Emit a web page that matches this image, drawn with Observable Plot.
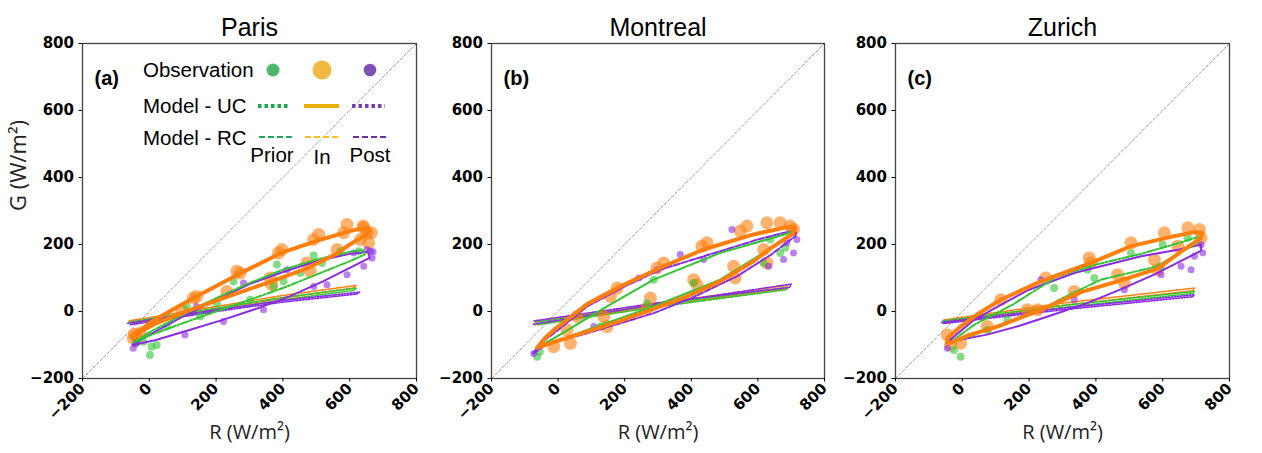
<!DOCTYPE html>
<html><head><meta charset="utf-8">
<script src="https://cdn.jsdelivr.net/npm/d3@7"></script>
<script src="https://cdn.jsdelivr.net/npm/@observablehq/plot@0.6"></script>
<style>
body{margin:0;background:#fff;}
#wrap{position:relative;width:1262px;height:453px;overflow:hidden;font-family:"Liberation Sans",Arial,sans-serif;}
.panel{position:absolute;top:0;overflow:visible;}
#legend{position:absolute;left:0;top:0;pointer-events:none;}
</style></head><body><div id="wrap"></div><script>
// ---------- axis / labels ----------
const cities = ["Paris", "Montreal", "Zurich"];
const panelTags = ["(a)", "(b)", "(c)"];
const ticks = [-200, 0, 200, 400, 600, 800];
const axisDomain = [-200, 800];
const xLabel = "R (W/m²)";
const yLabel = "G (W/m²)";
const legendRows = ["Observation", "Model - UC", "Model - RC"];
const legendCols = ["Prior", "In", "Post"];

// ---------- Paris ----------
const parisUcIn = [[-50,-78],[-35,-62],[0,-35],[60,0],[135,42],[270,113],[395,175],[515,215],[600,240],[645,250],[660,242],[648,228],[600,200],[560,172],[470,128],[360,88],[245,48],[115,2],[15,-38],[-30,-62],[-50,-78]];
const parisUcPrior = [[-45,-92],[0,-62],[100,-10],[200,40],[300,85],[400,125],[500,155],[600,178],[640,183],[645,170],[600,150],[500,110],[400,70],[300,35],[200,0],[100,-35],[0,-72],[-45,-92]];
const parisUcPost = [[-50,-100],[0,-70],[100,-15],[200,35],[300,82],[400,118],[500,150],[600,172],[655,178],[660,160],[600,130],[520,90],[420,45],[320,8],[220,-25],[120,-55],[20,-85],[-50,-100]];
const parisRcIn = [[-60,-28],[200,15],[400,48],[620,78],[610,70],[400,40],[200,8],[-55,-35]];
const parisRcPrior = [[-62,-32],[200,10],[400,42],[620,70],[612,63],[400,35],[200,3],[-56,-38]];
const parisRcPost = [[-65,-35],[200,5],[400,33],[630,58],[620,52],[400,28],[200,0],[-60,-40]];
const parisObsIn = [[592,260],[642,250],[652,235],[657,205],[582,235],[632,215],[562,185],[492,215],[507,230],[397,185],[387,175],[472,145],[482,120],[362,100],[367,80],[262,120],[272,115],[232,60],[142,45],[132,40],[97,5],[-28,-65],[-48,-80],[-38,-72],[-45,-68],[665,235],[640,255]];
const parisObsPrior = [[492,167],[382,140],[572,180],[517,145],[452,115],[372,75],[252,90],[112,15],[152,-15],[52,-45],[7,-105],[2,-130],[22,-100],[-18,-90],[202,25],[302,35],[402,90],[627,180],[-40,-95]];
const parisObsPost = [[652,185],[667,160],[642,135],[592,110],[532,80],[342,5],[412,125],[282,85],[222,-30],[142,15],[-48,-110],[612,175],[492,75],[107,-70],[662,180],[670,178],[-40,-95]];

// ---------- Montreal ----------
const montrealUcIn = [[-63,-108],[-40,-80],[-13,-55],[40,-15],[87,22],[187,75],[317,135],[437,185],[587,230],[687,252],[712,250],[705,232],[640,190],[587,150],[487,90],[387,45],[287,8],[187,-28],[87,-60],[7,-85],[-40,-100],[-63,-108]];
const montrealUcPrior = [[-60,-105],[-13,-80],[147,15],[287,95],[487,175],[687,232],[700,238],[695,225],[600,165],[487,95],[287,15],[87,-55],[-33,-100],[-60,-105]];
const montrealUcPost = [[-75,-125],[-53,-95],[0,-55],[87,15],[200,75],[307,125],[487,180],[600,215],[687,237],[715,238],[712,225],[640,170],[537,105],[400,40],[287,-5],[187,-35],[87,-65],[-33,-97],[-75,-125]];
const montrealRcIn = [[-70,-30],[300,25],[690,78],[688,68],[300,18],[-70,-40]];
const montrealRcPrior = [[-68,-32],[300,20],[690,72],[685,65],[300,14],[-65,-40]];
const montrealRcPost = [[-75,-38],[300,22],[700,82],[695,72],[300,26],[-72,-28]];
const montrealObsIn = [[627,265],[667,265],[697,255],[707,245],[567,255],[547,240],[432,195],[447,205],[317,145],[297,130],[177,70],[157,45],[277,40],[267,10],[407,95],[417,80],[527,135],[532,100],[617,185],[627,145],[137,-15],[147,-45],[27,-55],[37,-95],[-13,-105],[57,-15]];
const montrealObsPrior = [[667,175],[682,190],[617,145],[407,85],[287,95],[127,-45],[-63,-135],[267,25],[637,215],[-55,-120]];
const montrealObsPost = [[522,245],[707,175],[677,155],[687,205],[367,170],[632,135],[242,100],[107,-45],[-73,-125],[437,155],[717,215],[297,125]];

// ---------- Zurich ----------
const zurichUcIn = [[-45,-95],[-45,-80],[-5,-45],[50,-5],[115,35],[235,90],[385,145],[505,195],[635,225],[695,237],[718,235],[715,220],[650,175],[585,128],[465,90],[355,58],[235,5],[105,-45],[15,-72],[-30,-92],[-45,-95]];
const zurichUcPrior = [[-40,-95],[35,-40],[150,20],[285,105],[400,140],[535,172],[650,205],[705,222],[705,205],[640,170],[585,135],[415,95],[300,40],[235,5],[100,-45],[35,-70],[-40,-95]];
const zurichUcPost = [[-45,-92],[35,-25],[115,20],[200,65],[335,115],[535,165],[650,185],[715,200],[715,182],[673,160],[574,110],[474,66],[374,25],[274,-9],[174,-42],[74,-69],[-45,-92]];
const zurichRcIn = [[-55,-25],[300,25],[695,70],[690,62],[300,18],[-50,-30]];
const zurichRcPrior = [[-58,-28],[300,18],[695,60],[690,54],[300,12],[-52,-33]];
const zurichRcPost = [[-62,-32],[300,10],[695,50],[690,44],[300,5],[-57,-36]];
const zurichObsIn = [[675,250],[710,245],[715,220],[605,235],[505,205],[380,160],[385,145],[250,100],[115,35],[195,5],[335,60],[465,110],[485,85],[575,155],[585,125],[645,195],[75,-45],[-5,-95],[-45,-70],[-35,-100],[225,5]];
const zurichObsPrior = [[675,220],[600,200],[505,175],[375,125],[275,70],[135,-25],[75,-55],[-5,-135],[-25,-115],[595,135],[395,100]];
const zurichObsPost = [[715,200],[695,165],[655,135],[595,110],[485,65],[335,35],[235,95],[-45,-110],[720,175],[685,125]];

// ---------- colours ----------
const cGreen = "#33c433", cOrange = "#ff7f0e", cPurple = "#8a2be2";

const cityData = [
  {ucIn: parisUcIn, ucPrior: parisUcPrior, ucPost: parisUcPost, rcIn: parisRcIn, rcPrior: parisRcPrior, rcPost: parisRcPost, obsIn: parisObsIn, obsPrior: parisObsPrior, obsPost: parisObsPost},
  {ucIn: montrealUcIn, ucPrior: montrealUcPrior, ucPost: montrealUcPost, rcIn: montrealRcIn, rcPrior: montrealRcPrior, rcPost: montrealRcPost, obsIn: montrealObsIn, obsPrior: montrealObsPrior, obsPost: montrealObsPost},
  {ucIn: zurichUcIn, ucPrior: zurichUcPrior, ucPost: zurichUcPost, rcIn: zurichRcIn, rcPrior: zurichRcPrior, rcPost: zurichRcPost, obsIn: zurichObsIn, obsPrior: zurichObsPrior, obsPost: zurichObsPost}
];
const layout = [
  {left: 0, width: 420, ml: 82, mr: 4},
  {left: 420, width: 420, ml: 71, mr: 16},
  {left: 840, width: 422, ml: 55, mr: 33}
];

const wrap = document.getElementById("wrap");
const P = d => d[0], Q = d => d[1];
const SANS = "Liberation Sans, Arial, sans-serif";
const TICKFONT = "DejaVu Sans, Verdana, sans-serif";

cityData.forEach((c, i) => {
  const L = layout[i];
  const marks = [
    Plot.line(axisDomain.map(v => [v, v]), {x: P, y: Q, stroke: "#8a8a8a", strokeWidth: 0.8, strokeDasharray: "3,2"}),
    Plot.line(c.rcIn, {x: P, y: Q, stroke: cOrange, strokeWidth: 1.6, strokeDasharray: "1.5,1.5"}),
    Plot.line(c.rcPrior, {x: P, y: Q, stroke: cGreen, strokeWidth: 1.6, strokeDasharray: "1.5,1.5"}),
    Plot.line(c.rcPost, {x: P, y: Q, stroke: cPurple, strokeWidth: 1.6, strokeDasharray: "1.5,1.5"}),
    Plot.dot(c.obsIn, {x: P, y: Q, r: 6.5, fill: cOrange, fillOpacity: 0.6}),
    Plot.dot(c.obsPrior, {x: P, y: Q, r: 4, fill: cGreen, fillOpacity: 0.6}),
    Plot.dot(c.obsPost, {x: P, y: Q, r: 3.5, fill: cPurple, fillOpacity: 0.6}),
    Plot.line(c.ucPost, {x: P, y: Q, stroke: cPurple, strokeWidth: 2, strokeDasharray: i === 1 ? "6,2" : null}),
    Plot.line(c.ucPrior, {x: P, y: Q, stroke: cGreen, strokeWidth: 2, strokeDasharray: i === 1 ? null : "7,2,2,2"}),
    Plot.line(c.ucIn, {x: P, y: Q, stroke: cOrange, strokeWidth: 4}),
    Plot.frame({stroke: "#444", strokeWidth: 1.3}),
    Plot.axisX({ticks, tickRotate: -45, tickSize: 3.5, tickPadding: 4, fontSize: 15, fontWeight: "bold", fontFamily: TICKFONT, label: null}),
    Plot.axisY({ticks, tickSize: 3.5, tickPadding: 5, fontSize: 15, fontWeight: "bold", fontFamily: TICKFONT, label: null}),
    Plot.text([cities[i]], {text: d => d, frameAnchor: "top", dy: -25, fontSize: 25, fontFamily: SANS, fill: "#000"}),
    Plot.text([panelTags[i]], {text: d => d, frameAnchor: "top-left", dx: 12, dy: 27, textAnchor: "start", fontSize: 20, fontWeight: "bold", fontFamily: SANS, fill: "#000"}),
    Plot.text([xLabel], {text: d => d, frameAnchor: "bottom", dy: 60, fontSize: 20, fontFamily: "Open Sans", fill: "#222"})
  ];
  if (i === 0) marks.push(Plot.text([yLabel], {text: d => d, frameAnchor: "left", dx: -64, rotate: -90, fontSize: 22, fontFamily: "Open Sans", fill: "#222"}));
  const svg = Plot.plot({
    width: L.width, height: 453,
    marginLeft: L.ml, marginRight: L.mr, marginTop: 43, marginBottom: 75,
    x: {domain: axisDomain}, y: {domain: axisDomain},
    style: {fontFamily: TICKFONT, color: "#000", background: "transparent", overflow: "visible"},
    marks
  });
  svg.classList.add("panel");
  svg.style.left = L.left + "px";
  wrap.appendChild(svg);
});

// ---------- legend (panel a) ----------
const lg = d3.select(wrap).append("svg").attr("id", "legend").attr("width", 420).attr("height", 200)
  .style("font-family", SANS);
const rowY = [70, 106, 138];
legendRows.forEach((t, k) => lg.append("text").attr("x", 143).attr("y", rowY[k]).attr("dy", "0.35em").attr("font-size", 20.5).text(t));
const colX = [273, 322, 370];
const dotCol = ["#4db86b", "#f0b944", "#7e4fb5"], dotR = [6.5, 9.5, 6.3];
colX.forEach((x, k) => lg.append("circle").attr("cx", x).attr("cy", 70).attr("r", dotR[k]).attr("fill", dotCol[k]));
const ucCol = ["#1aa84a", "#f0b000", "#7a3db0"], ucDash = ["3.5,3", null, "3.5,3"];
const ucX = [[258, 290], [304, 339], [352, 385]];
ucX.forEach((s, k) => lg.append("line").attr("x1", s[0]).attr("x2", s[1]).attr("y1", 106).attr("y2", 106).attr("stroke", ucCol[k]).attr("stroke-width", 4).attr("stroke-dasharray", ucDash[k]));
const rcCol = ["#22a855", "#f8c020", "#7030a0"];
const rcX = [[259, 293], [305, 339], [353, 387]];
rcX.forEach((s, k) => lg.append("line").attr("x1", s[0]).attr("x2", s[1]).attr("y1", 137).attr("y2", 137).attr("stroke", rcCol[k]).attr("stroke-width", 2).attr("stroke-dasharray", "6,3"));
const colTextX = [272, 322, 370], colTextY = [155, 157, 155];
legendCols.forEach((t, k) => lg.append("text").attr("x", colTextX[k]).attr("y", colTextY[k]).attr("dy", "0.35em").attr("text-anchor", "middle").attr("font-size", 20.5).text(t));
</script></body></html>
